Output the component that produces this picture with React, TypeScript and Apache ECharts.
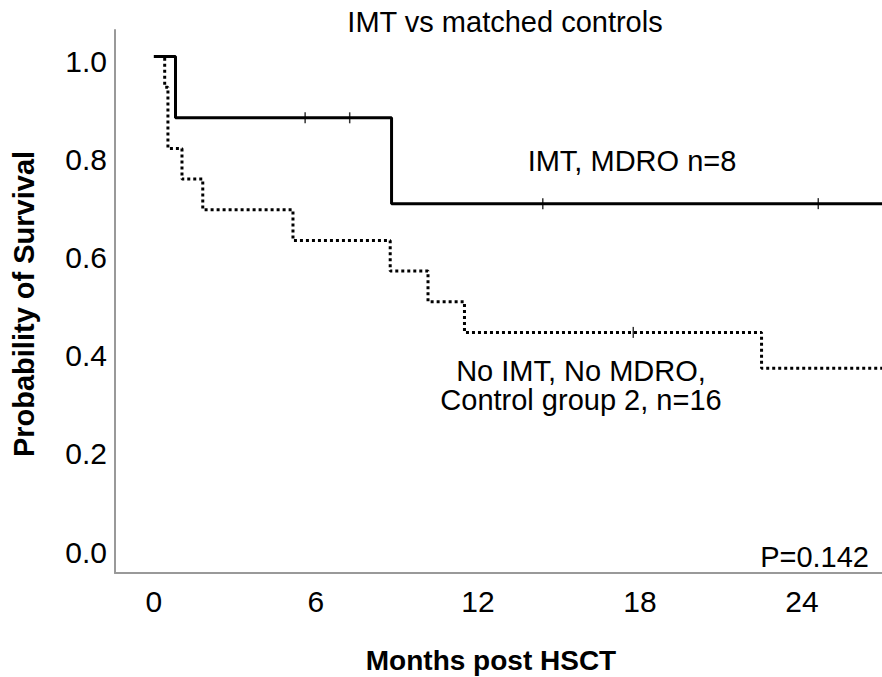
import React, { useEffect, useRef } from "react";
import * as echarts from "echarts";

// IMT, MDRO group (n=8)
const imtTimes = [0, 0.8, 8.8, 27.5];
const imtSurvival = [1, 0.875, 0.7, 0.7];
const imtCensorTimes = [5.6, 7.25, 14.4, 24.6];
const imtCensorSurvival = [0.875, 0.875, 0.7, 0.7];

// No IMT, No MDRO, control group 2 (n=16)
const ctrlTimes = [0, 0.4, 0.52, 1.04, 1.81, 5.15, 8.75, 10.15, 11.5, 22.5, 27.5];
const ctrlSurvival = [1, 0.9375, 0.8125, 0.75, 0.6875, 0.625, 0.5625, 0.5, 0.4375, 0.3646, 0.3646];
const ctrlCensorTimes = [17.75];
const ctrlCensorSurvival = [0.4375];

const xTicks = [0, 6, 12, 18, 24];
const yTicks = [0, 0.2, 0.4, 0.6, 0.8, 1.0];

const titleText = "IMT vs matched controls";
const xTitle = "Months post HSCT";
const yTitle = "Probability of Survival";
const imtLabel = "IMT, MDRO n=8";
const ctrlLabel1 = "No IMT, No MDRO,";
const ctrlLabel2 = "Control group 2, n=16";
const pLabel = "P=0.142";

const FONT = "'Liberation Sans', Arial, Helvetica, sans-serif";

export default function App() {
  const ref = useRef<HTMLDivElement>(null);

  useEffect(() => {
    document.body.style.margin = "0";
    if (!ref.current) return;
    const chart = echarts.init(ref.current, null, { renderer: "svg" });

    const zip = (a: number[], b: number[]) => a.map((v, i) => [v, b[i]]);

    const textEl = (
      text: string,
      x: number,
      y: number,
      opts: Record<string, unknown> = {}
    ) => ({
      type: "text",
      x,
      y,
      silent: true,
      style: {
        text,
        fontFamily: FONT,
        fontSize: 29,
        fill: "#000",
        align: "center",
        verticalAlign: "middle",
        ...opts,
      },
    });

    const option: any = {
      animation: false,
      backgroundColor: "#fff",
      grid: {
        left: 115,
        right: 0,
        top: 30,
        bottom: 104,
        outerBoundsMode: "none",
        containLabel: false,
      },
      xAxis: {
        type: "value",
        min: -1.44,
        max: 26.96,
        axisLine: {
          show: true,
          onZero: false,
          lineStyle: { color: "#999", width: 2 },
        },
        axisTick: { show: false },
        splitLine: { show: false },
        axisLabel: {
          customValues: xTicks,
          fontFamily: FONT,
          fontSize: 30,
          color: "#000",
          margin: 13,
        },
      },
      yAxis: {
        type: "value",
        min: -0.053,
        max: 1.054,
        axisLine: {
          show: true,
          onZero: false,
          lineStyle: { color: "#999", width: 2 },
        },
        axisTick: { show: false },
        splitLine: { show: false },
        axisLabel: {
          customValues: yTicks,
          formatter: (v: number) => v.toFixed(1),
          fontFamily: FONT,
          fontSize: 30,
          color: "#000",
          margin: 8,
          verticalAlign: "top",
          lineHeight: 10,
        },
      },
      series: [
        {
          name: "IMT, MDRO",
          type: "line",
          step: "end",
          showSymbol: false,
          data: zip(imtTimes, imtSurvival),
          lineStyle: { color: "#000", width: 3, type: "solid" },
          z: 3,
        },
        {
          name: "Control",
          type: "line",
          step: "end",
          showSymbol: false,
          data: zip(ctrlTimes, ctrlSurvival),
          lineStyle: { color: "#000", width: 3, type: [3, 3], cap: "butt" },
          z: 2,
        },
        {
          name: "IMT censored",
          type: "scatter",
          symbol: "rect",
          symbolSize: [1.5, 11],
          data: zip(imtCensorTimes, imtCensorSurvival),
          itemStyle: { color: "#000" },
          z: 4,
        },
        {
          name: "Control censored",
          type: "scatter",
          symbol: "rect",
          symbolSize: [1.5, 11],
          data: zip(ctrlCensorTimes, ctrlCensorSurvival),
          itemStyle: { color: "#000" },
          z: 4,
        },
      ],
      graphic: [
        textEl(titleText, 505, 22),
        textEl(xTitle, 491, 660, { fontWeight: "bold", fontSize: 28 }),
        {
          type: "text",
          x: 24,
          y: 304,
          rotation: Math.PI / 2,
          silent: true,
          style: {
            text: yTitle,
            fontFamily: FONT,
            fontSize: 29,
            fontWeight: "bold",
            fill: "#000",
            align: "center",
            verticalAlign: "middle",
          },
        },
        textEl(imtLabel, 632, 161),
        textEl(ctrlLabel1, 581, 371),
        textEl(ctrlLabel2, 581, 400),
        textEl(pLabel, 869, 557, { align: "right" }),
      ],
    };

    chart.setOption(option);
    return () => chart.dispose();
  }, []);

  return <div ref={ref} style={{ width: 882, height: 677 }} />;
}
